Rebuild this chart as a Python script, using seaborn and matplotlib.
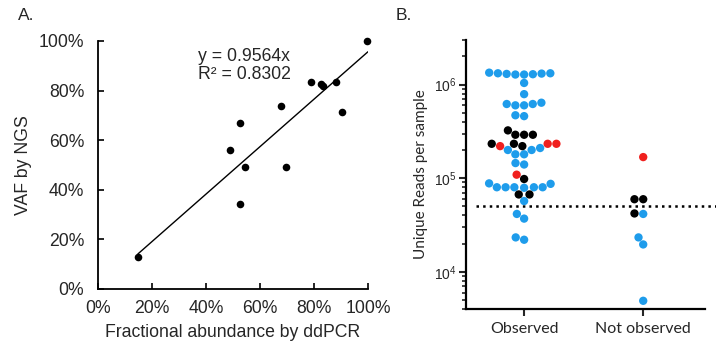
"""
    plot.py
    Two-panel figure: ddPCR vs NGS agreement (A) and unique reads per sample (B).
"""
import numpy as np
import pandas as pd
import seaborn as sns
import matplotlib.pyplot as plt
from matplotlib.ticker import PercentFormatter, LogLocator, NullFormatter

#################################################################################
# Data
#################################################################################

# Panel A: fractional abundance (ddPCR) vs VAF (NGS), in percent.
ddpcr_pct = [14.8, 48.8, 52.5, 54.3, 52.5, 67.7, 69.5, 79.0, 82.5, 83.4, 88.0, 90.4, 99.6]
ngs_pct = [12.8, 56.1, 66.8, 49.0, 34.4, 73.6, 49.0, 83.4, 82.5, 81.9, 83.6, 71.5, 100.0]
fit_slope = 0.9564
fit_r2 = 0.8302

# Panel B: unique reads per sample, split by observation group and point colour.
obs_blue = [1.32e6, 1.32e6, 1.34e6, 1.28e6, 1.28e6, 1.30e6, 1.31e6, 1.29e6,
            1.04e6, 7.9e5, 6.4e5, 6.2e5, 6.2e5, 6.0e5, 6.0e5, 4.6e5, 4.7e5,
            2.0e5, 2.1e5, 2.0e5, 1.8e5, 1.8e5, 1.45e5, 1.4e5,
            8.0e4, 8.8e4, 8.0e4, 8.0e4, 8.0e4, 8.0e4, 7.9e4, 8.7e4,
            5.7e4, 4.15e4, 3.7e4, 2.33e4, 2.2e4]
obs_black = [3.24e5, 2.91e5, 2.91e5, 2.91e5, 2.33e5, 2.33e5, 2.2e5, 9.8e4, 6.7e4, 6.7e4]
obs_red = [2.33e5, 2.33e5, 2.2e5, 1.09e5]
notobs_blue = [4.15e4, 2.33e4, 1.96e4, 4.9e3]
notobs_black = [5.96e4, 5.96e4, 4.2e4]
notobs_red = [1.68e5]
groups = ['Observed', 'Not observed']
threshold = 5e4

PALETTE = {'blue': '#1E9CEB', 'black': 'black', 'red': '#F0201E'}

#################################################################################
# Plotting
#################################################################################

def build_reads_df():
    rows = []
    for grp, series in [('Observed', {'blue': obs_blue, 'black': obs_black, 'red': obs_red}),
                        ('Not observed', {'blue': notobs_blue, 'black': notobs_black,
                                          'red': notobs_red})]:
        for col, vals in series.items():
            for v in vals:
                rows.append({'group': grp, 'reads': v, 'colour': col})
    return pd.DataFrame(rows)


def main():
    sns.set_style('white')
    plt.rcParams['font.family'] = ['Liberation Sans', 'DejaVu Sans']

    fig = plt.figure(figsize=(7.16, 3.5), dpi=100)
    tick_size = 12.7

    # ---------------- Panel A ----------------
    ax_a = fig.add_axes([0.1369, 0.1743, 0.377, 0.7087])
    df_a = pd.DataFrame({'ddpcr': ddpcr_pct, 'ngs': ngs_pct})
    sns.scatterplot(data=df_a, x='ddpcr', y='ngs', ax=ax_a, color='black',
                    s=30, linewidth=0, clip_on=False, zorder=3)
    x_fit = np.array([min(ddpcr_pct), 100.0])
    ax_a.plot(x_fit, fit_slope * x_fit, color='black', lw=1.0)
    ax_a.set_xlim(0, 100)
    ax_a.set_ylim(0, 100)
    ax_a.set_xticks(np.arange(0, 101, 20))
    ax_a.set_yticks(np.arange(0, 101, 20))
    ax_a.xaxis.set_major_formatter(PercentFormatter(100, decimals=0))
    ax_a.yaxis.set_major_formatter(PercentFormatter(100, decimals=0))
    ax_a.tick_params(direction='in', length=4, width=1.2, labelsize=tick_size,
                     color='black', pad=8, left=True, bottom=True)
    ax_a.tick_params(axis='y', pad=10)
    for side in ['top', 'right']:
        ax_a.spines[side].set_visible(False)
    for side in ['left', 'bottom']:
        ax_a.spines[side].set_linewidth(1.3)
        ax_a.spines[side].set_color('black')
    ax_a.set_xlabel('Fractional abundance by ddPCR', fontsize=tick_size, labelpad=5)
    ax_a.set_ylabel('VAF by NGS', fontsize=tick_size, labelpad=5)
    ax_a.text(0.37, 0.90, f'y = {fit_slope}x\nR² = {fit_r2}', transform=ax_a.transAxes,
              fontsize=tick_size, va='center', ha='left', linespacing=1.05)
    fig.text(0.025, 0.955, 'A.', fontsize=12.5, va='center', ha='left')

    # ---------------- Panel B ----------------
    ax_b = fig.add_axes([0.651, 0.117, 0.334, 0.769])
    ax_b.set_yscale('log')
    ax_b.set_ylim(4e3, 3e6)
    df_b = build_reads_df()
    sns.swarmplot(data=df_b, x='group', y='reads', hue='colour', order=groups,
                  hue_order=['blue', 'black', 'red'], palette=PALETTE, size=6,
                  linewidth=0, ax=ax_b, legend=False, zorder=3)
    ax_b.set_xlim(-0.487, 1.521)
    ax_b.set_ylim(4e3, 3e6)
    ax_b.axhline(threshold, xmin=0.04, xmax=1.05, color='black', ls=':', lw=1.8,
                 clip_on=False, zorder=2)
    ax_b.yaxis.set_major_locator(LogLocator(base=10, numticks=10))
    ax_b.yaxis.set_minor_locator(LogLocator(base=10, subs=np.arange(2, 10), numticks=20))
    ax_b.yaxis.set_minor_formatter(NullFormatter())
    ax_b.tick_params(axis='y', which='major', direction='out', length=5, width=1.5,
                     labelsize=10, pad=2, left=True)
    ax_b.tick_params(axis='y', which='minor', direction='out', length=3, width=1.2,
                     left=True)
    ax_b.tick_params(axis='x', direction='out', length=5, width=1.5, labelsize=11.5,
                     pad=4, bottom=True)
    for side in ['top', 'right']:
        ax_b.spines[side].set_visible(False)
    for side in ['left', 'bottom']:
        ax_b.spines[side].set_linewidth(1.6)
        ax_b.spines[side].set_color('black')
    for lbl in ax_b.get_xticklabels():
        lbl.set_family(['Lato', 'DejaVu Sans'])
    ax_b.set_xlabel('')
    ax_b.set_ylabel('Unique Reads per sample', fontsize=11, labelpad=4,
                    family=['Lato', 'DejaVu Sans'])
    fig.text(0.552, 0.955, 'B.', fontsize=12.5, va='center', ha='left')

    plt.savefig('out.png', dpi=100)


if __name__ == '__main__':
    main()
